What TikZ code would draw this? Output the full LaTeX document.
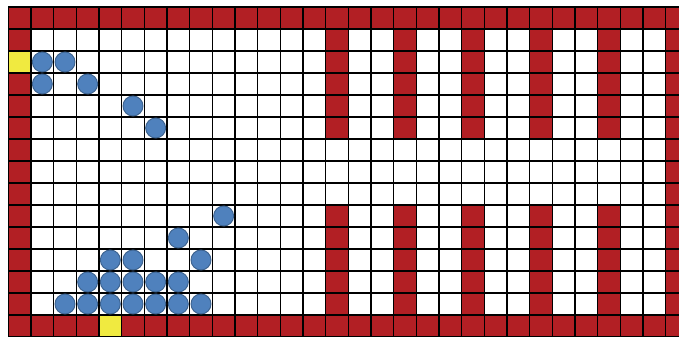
\documentclass[tikz,border=0pt]{standalone}
\usepackage{tikz}
\definecolor{wallred}{RGB}{178,31,36}
\definecolor{exityellow}{RGB}{240,234,64}
\definecolor{agentblue}{RGB}{79,129,189}
\definecolor{agentedge}{RGB}{60,98,142}
\begin{document}
\begin{tikzpicture}[
  cellline/.style={draw=black, line width=1.1pt},
  wall/.style={fill=wallred},
  exitcell/.style={fill=exityellow},
  agent/.style={fill=agentblue, draw=agentedge, line width=0.8pt}
]
\clip (0,0) rectangle (20.37,10.11);
\begin{scope}[shift={(0.25,9.9)}, x=0.68cm, y=-0.66cm]
% outer walls
\fill[wall] (0,0) rectangle (30,1);
\fill[wall] (0,14) rectangle (30,15);
\fill[wall] (0,0) rectangle (1,15);
\fill[wall] (29,0) rectangle (30,15);
% inner walls with a gap in rows 6-8
\foreach \c in {14,17,20,23,26} {
  \fill[wall] (\c,1) rectangle (\c+1,6);
  \fill[wall] (\c,9) rectangle (\c+1,14);
}
% exits
\fill[exitcell] (0,2) rectangle (1,3);
\fill[exitcell] (4,14) rectangle (5,15);
% grid
\foreach \c in {0,...,30}
  \draw[cellline] (\c,0) -- (\c,15);
\foreach \r in {0,...,15}
  \draw[cellline] (0,\r) -- (30,\r);
% agents
\foreach \c/\r in {1/2,2/2,1/3,3/3,5/4,6/5,9/9,7/10,4/11,5/11,8/11,
  3/12,4/12,5/12,6/12,7/12,2/13,3/13,4/13,5/13,6/13,7/13,8/13}
  \draw[agent] (\c+0.5,\r+0.5) circle (0.3cm);
\end{scope}
\end{tikzpicture}
\end{document}
